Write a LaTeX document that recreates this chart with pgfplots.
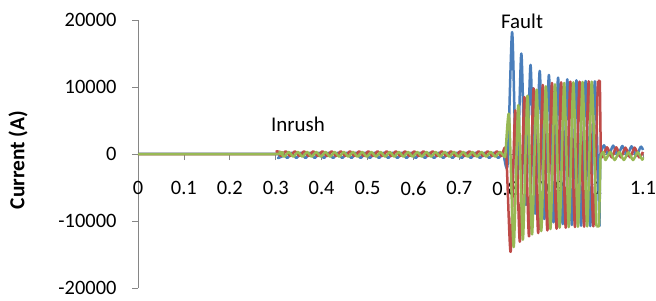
\documentclass[border=0pt]{standalone}
\usepackage{pgfplots}
\pgfplotsset{compat=1.18}
\usepackage{fontspec}
\setmainfont{Carlito}
\definecolor{xblue}{HTML}{4A7EBB}
\definecolor{xred}{HTML}{BE4B48}
\definecolor{xgreen}{HTML}{98B954}
\definecolor{xaxis}{HTML}{868686}
\begin{document}
\begin{tikzpicture}[x=1bp,y=1bp]
\useasboundingbox (0,0) rectangle (656,300);
\begin{axis}[
  at={(138bp,12bp)}, anchor=south west,
  scale only axis, width=505bp, height=268bp,
  xmin=0, xmax=1.1, ymin=-20000, ymax=20000,
  axis x line=middle, axis y line=left,
  axis line style={-, xaxis, line width=0.75bp},
  hide obscured x ticks=false, hide obscured y ticks=false,
  xtick={0,0.1,0.2,0.3,0.4,0.5,0.6,0.7,0.8,0.9,1,1.1},
  xticklabels={0,0.1,0.2,0.3,0.4,0.5,0.6,0.7,0.8,0.9,1,1.1},
  ytick={-20000,-10000,0,10000,20000},
  yticklabels={-20000,-10000,0,10000,20000},
  tick align=outside, major tick length=6bp,
  tick style={xaxis, line width=0.75bp},
  scaled ticks=false,
  every tick label/.append style={font=\fontsize{20.5}{23}\selectfont, text=black},
  xticklabel style={yshift=-18bp},
  yticklabel style={xshift=-12bp},
  clip=false,
  every axis plot/.append style={line width=2.5bp, line join=round, mark=none},
  sm/.style={smooth, tension=0.4},
]
% ---- blue ----
\addplot[xblue, sm] coordinates {
(0,0) (0.3,0)
(0.305,-600) (0.315,200) (0.325,-600) (0.335,200) (0.345,-600) (0.355,200) (0.365,-600) (0.375,200) (0.385,-600) (0.395,200)
(0.405,-600) (0.415,200) (0.425,-600) (0.435,200) (0.445,-600) (0.455,200) (0.465,-600) (0.475,200) (0.485,-600) (0.495,200)
(0.505,-600) (0.515,200) (0.525,-600) (0.535,200) (0.545,-600) (0.555,200) (0.565,-600) (0.575,200) (0.585,-600) (0.595,200)
(0.605,-600) (0.615,200) (0.625,-600) (0.635,200) (0.645,-600) (0.655,200) (0.665,-600) (0.675,200) (0.685,-600) (0.695,200)
(0.705,-600) (0.715,200) (0.725,-600) (0.735,200) (0.745,-600) (0.755,200) (0.765,-600) (0.775,200) (0.785,-600) (0.795,200)
(0.805,-1500) (0.815,18200) (0.825,-5500) (0.835,15000) (0.845,-7600) (0.855,13300) (0.865,-8900) (0.875,12400)
(0.885,-9700) (0.895,11800) (0.905,-10200) (0.915,11400) (0.925,-10450) (0.935,11150) (0.945,-10600) (0.955,11000)
(0.965,-10700) (0.975,10900) (0.985,-10750) (0.995,10850) (1.005,-10800)
};
\addplot[xblue] coordinates {(1.005,-10800) (1.007,0)};
\addplot[xblue, sm] coordinates {
(1.007,0) (1.015,1300) (1.025,-200) (1.035,1250) (1.045,-250) (1.055,1200) (1.065,-300) (1.075,1150) (1.085,-300) (1.095,1100) (1.1,600)
};
% ---- red ----
\addplot[xred, sm] coordinates {
(0,0) (0.3,0)
(0.3017,400) (0.3117,-300) (0.3217,400) (0.3317,-300) (0.3417,400) (0.3517,-300) (0.3617,400) (0.3717,-300) (0.3817,400) (0.3917,-300)
(0.4017,400) (0.4117,-300) (0.4217,400) (0.4317,-300) (0.4417,400) (0.4517,-300) (0.4617,400) (0.4717,-300) (0.4817,400) (0.4917,-300)
(0.5017,400) (0.5117,-300) (0.5217,400) (0.5317,-300) (0.5417,400) (0.5517,-300) (0.5617,400) (0.5717,-300) (0.5817,400) (0.5917,-300)
(0.6017,400) (0.6117,-300) (0.6217,400) (0.6317,-300) (0.6417,400) (0.6517,-300) (0.6617,400) (0.6717,-300) (0.6817,400) (0.6917,-300)
(0.7017,400) (0.7117,-300) (0.7217,400) (0.7317,-300) (0.7417,400) (0.7517,-300) (0.7617,400) (0.7717,-300) (0.7817,400) (0.7917,-300)
(0.8017,400)
(0.8117,-14600) (0.8217,6500) (0.8317,-13100) (0.8417,8500) (0.8517,-12300) (0.8617,9800) (0.8717,-11800) (0.8817,10300)
(0.8917,-11400) (0.9017,10600) (0.9117,-11150) (0.9217,10700) (0.9317,-11000) (0.9417,10800) (0.9517,-10900) (0.9617,10800)
(0.9717,-10850) (0.9817,10850) (0.9917,-10800) (1.0017,10900)
};
\addplot[xred] coordinates {(1.0017,10900) (1.006,10900) (1.008,0)};
\addplot[xred, sm] coordinates {
(1.008,0) (1.0117,-500) (1.0217,1000) (1.0317,-500) (1.0417,1000) (1.0517,-500) (1.0617,950) (1.0717,-500) (1.0817,950) (1.0917,-500) (1.1,300)
};
% ---- green ----
\addplot[xgreen, sm] coordinates {
(0,0) (0.3,0)
(0.3083,300) (0.3183,-400) (0.3283,300) (0.3383,-400) (0.3483,300) (0.3583,-400) (0.3683,300) (0.3783,-400) (0.3883,300) (0.3983,-400)
(0.4083,300) (0.4183,-400) (0.4283,300) (0.4383,-400) (0.4483,300) (0.4583,-400) (0.4683,300) (0.4783,-400) (0.4883,300) (0.4983,-400)
(0.5083,300) (0.5183,-400) (0.5283,300) (0.5383,-400) (0.5483,300) (0.5583,-400) (0.5683,300) (0.5783,-400) (0.5883,300) (0.5983,-400)
(0.6083,300) (0.6183,-400) (0.6283,300) (0.6383,-400) (0.6483,300) (0.6583,-400) (0.6683,300) (0.6783,-400) (0.6883,300) (0.6983,-400)
(0.7083,300) (0.7183,-400) (0.7283,300) (0.7383,-400) (0.7483,300) (0.7583,-400) (0.7683,300) (0.7783,-400) (0.7883,300) (0.7983,-400)
(0.8003,0)
(0.8083,5800) (0.8183,-13900) (0.8283,7300) (0.8383,-12800) (0.8483,8700) (0.8583,-12000) (0.8683,9600) (0.8783,-11500)
(0.8883,10100) (0.8983,-11200) (0.9083,10400) (0.9183,-11000) (0.9283,10600) (0.9383,-10900) (0.9483,10700) (0.9583,-10850)
(0.9683,10750) (0.9783,-10800) (0.9883,10800) (0.9983,-10800)
};
\addplot[xgreen] coordinates {(0.9983,-10800) (1.004,-10800) (1.0075,-300)};
\addplot[xgreen, sm] coordinates {
(1.0075,-300) (1.0133,300) (1.0183,-900) (1.0283,300) (1.0383,-900) (1.0483,300) (1.0583,-900) (1.0683,250) (1.0783,-900) (1.0883,250) (1.0983,-850) (1.1,-500)
};
\node[font=\fontsize{21}{24}\selectfont, inner sep=0pt] at (axis cs:0.3486,4480) {Inrush};
\node[font=\fontsize{21}{24}\selectfont, inner sep=0pt] at (axis cs:0.8366,19850) {Fault};
\end{axis}
\node[rotate=90, font=\fontsize{21.5}{24}\selectfont\bfseries, inner sep=0pt] at (18,140) {Current (A)};
\end{tikzpicture}
\end{document}
